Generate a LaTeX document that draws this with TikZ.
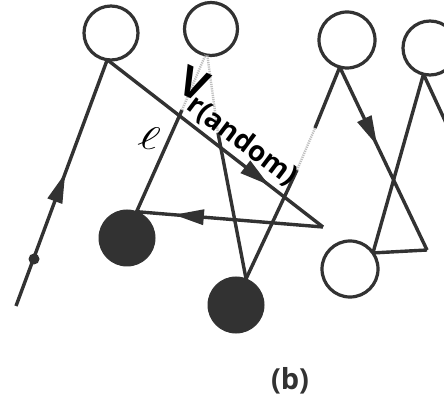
\documentclass[tikz,border=0pt]{standalone}
\usepackage{fontspec}
\newfontfamily\labfont{Open Sans}
\usetikzlibrary{arrows.meta,decorations.markings}
\definecolor{ink}{RGB}{50,50,50}
\tikzset{
  opencirc/.style={circle,draw=ink,line width=3.2pt,minimum size=54pt,inner sep=0pt,outer sep=0pt},
  fullcirc/.style={circle,draw=ink,fill=ink,line width=1pt,minimum size=56pt,inner sep=0pt,outer sep=0pt},
  smalldot/.style={circle,fill=ink,minimum size=11pt,inner sep=0pt},
  edge/.style={draw=ink,line width=3.4pt},
  gline/.style={draw=gray!50,line width=2.4pt,dash pattern=on 1.2pt off 1pt},
  midarrow/.style={postaction={decorate},decoration={markings,mark=at position #1 with {\arrow{Triangle[length=30pt,width=15pt]}}}}
}
\begin{document}
\begin{tikzpicture}[x=1pt,y=-1pt]
\useasboundingbox[fill=white] (0,0) rectangle (444,411);
\clip (0,0) rectangle (444,411);
% circles
\node[opencirc] (C1) at (111,33) {};
\node[opencirc,minimum size=53pt] (C2) at (211,29) {};
\node[opencirc,minimum size=56pt] (C3) at (347,40) {};
\node[opencirc] (C4) at (430,48) {};
\node[opencirc,minimum size=56pt] (C5) at (350,269) {};
\node[fullcirc] (F1) at (127,238) {};
\node[fullcirc] (F2) at (236,305) {};
% auxiliary points
\coordinate (A) at (323,227);
\coordinate (B) at (427,250);
\coordinate (P) at (182,110);
\coordinate (Q) at (218,133);
\coordinate (R) at (297,170);
\coordinate (S) at (315,128);
\coordinate (E) at (16,306);
\coordinate (X) at (453,138);
% edges
\draw[edge,midarrow=0.54] (E) -- (C1.-98);
\node[smalldot] (d) at (34,259) {};
\draw[edge,midarrow=0.75] (C1.-98) -- (A);
\draw[edge,midarrow=0.80] (A) -- (F1.70);
\draw[edge] (F1.70) -- (P);
\draw[gline] (P) -- (C2.-102);
\draw[edge] (F2.69) -- (Q);
\draw[gline] (Q) -- (C2.-98);
\draw[edge] (F2.69) -- (R);
\draw[gline] (R) -- (S);
\draw[edge] (S) -- (C3.-105);
\draw[edge,midarrow=0.43] (C3.-105) -- (B);
\draw[edge] (B) -- (C5.35);
\draw[edge] (C4.-104) -- (C5.35);
\draw[edge] (C4.-104) -- (X);
% labels
\node[text=black,rotate=-25,inner sep=0pt,font={\labfont\bfseries\fontsize{42}{42}\selectfont}] (V) at (194,84) {V};
\node[text=black,rotate=-37,inner sep=0pt,font={\labfont\bfseries\fontsize{28}{28}\selectfont}] (Vs) at (242,141) {r(andom)};
\node[text=black,inner sep=0pt,rotate=-10] (ell) at (149,138) {\scalebox{5}[3.3]{$\ell$}};
\node[text=ink,font={\labfont\bfseries\fontsize{29}{29}\selectfont}] (cap) at (290,381) {(b)};
\end{tikzpicture}
\end{document}
